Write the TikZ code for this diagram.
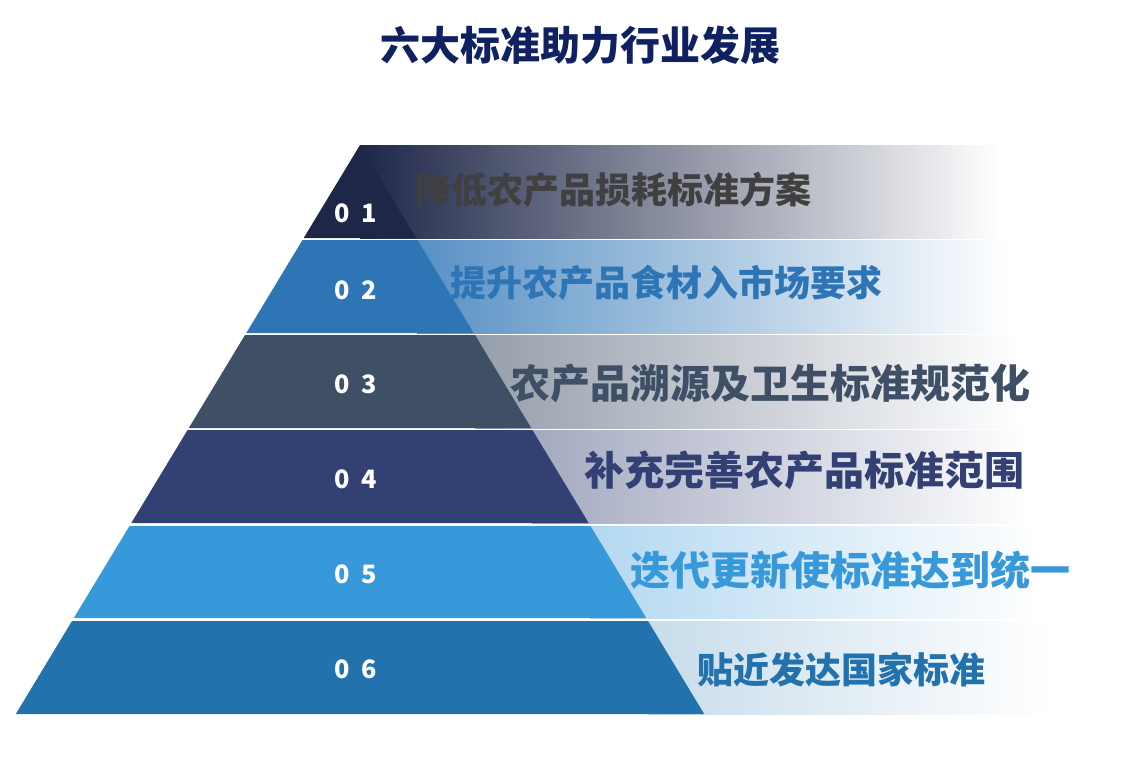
\documentclass[tikz,border=0pt]{standalone}
\usepackage{fontspec}
\newfontfamily\cjk{Noto Sans CJK SC}
\usepackage{tikz}
\usetikzlibrary{positioning}

\definecolor{navyA}{HTML}{1E2748}
\definecolor{blueB}{HTML}{2E75B6}
\definecolor{slateC}{HTML}{3E4F66}
\definecolor{navyD}{HTML}{334073}
\definecolor{skyE}{HTML}{3798DA}
\definecolor{blueF}{HTML}{2273AD}
\definecolor{titleblue}{HTML}{102162}
\definecolor{labelgray}{HTML}{404040}

\begin{document}
\begin{tikzpicture}[
  x=0.75pt,y=-0.75pt,
  every node/.style={font=\cjk\bfseries},
  num/.style={text=white,font=\cjk\bfseries\fontsize{19}{22}\selectfont},
  label/.style={anchor=west,inner sep=0pt},
  big/.style={font=\cjk\bfseries\fontsize{30}{34}\selectfont},
  mid/.style={font=\cjk\bfseries\fontsize{27}{31}\selectfont}
]
  \useasboundingbox (0,0) rectangle (1133,769);

  % fading bands behind the pyramid
  \shade[left color=navyA,middle color=navyA!20!white,right color=white] (360,145) rectangle (1000,238);
  \shade[left color=blueB!80!white,middle color=blueB!18!white,right color=white] (417,240) rectangle (1010,333);
  \shade[left color=slateC!55!white,middle color=slateC!15!white,right color=white] (475,335) rectangle (1020,428);
  \shade[left color=navyD!45!white,middle color=navyD!12!white,right color=white] (532,430) rectangle (1030,523);
  \shade[left color=skyE!38!white,middle color=skyE!12!white,right color=white] (590,526) rectangle (1040,618);
  \shade[left color=blueF!25!white,middle color=blueF!8!white,right color=white] (648,621) rectangle (1050,714);

  % pyramid layers
  \fill[navyA] (360,145) -- (416.3,238) -- (303.7,238) -- cycle;
  \fill[blueB] (302.5,240) -- (417.5,240) -- (473.7,333) -- (246.3,333) -- cycle;
  \fill[slateC] (245,335) -- (475,335) -- (531.2,428) -- (188.8,428) -- cycle;
  \fill[navyD] (187.6,430) -- (532.4,430) -- (588.7,523) -- (131.3,523) -- cycle;
  \fill[skyE] (129.5,526) -- (590.5,526) -- (646.2,618) -- (73.8,618) -- cycle;
  \fill[blueF] (72,621) -- (648,621) -- (704.2,714) -- (15.8,714) -- cycle;

  % numbers
  \node[num] (n1) at (356,213) {0\hspace{0.45em}1};
  \node[num] (n2) at (356,290) {0\hspace{0.45em}2};
  \node[num] (n3) at (356,384) {0\hspace{0.45em}3};
  \node[num] (n4) at (356,479) {0\hspace{0.45em}4};
  \node[num] (n5) at (356,574) {0\hspace{0.45em}5};
  \node[num] (n6) at (356,669) {0\hspace{0.45em}6};

  % labels
  \node[label,mid,text=labelgray] (l1) at (415,190) {降低农产品损耗标准方案};
  \node[label,mid,text=blueB] (l2) at (450,283) {提升农产品食材入市场要求};
  \node[label,big,text=slateC] (l3) at (510,383) {农产品溯源及卫生标准规范化};
  \node[label,big,text=navyD] (l4) at (584,470) {补充完善农产品标准范围};
  \node[label,big,text=skyE] (l5) at (630,570) {迭代更新使标准达到统一};
  \node[label,mid,text=blueF] (l6) at (697,670) {贴近发达国家标准};

  \node[big,text=titleblue] (title) at (580,45) {六大标准助力行业发展};
\end{tikzpicture}
\end{document}
